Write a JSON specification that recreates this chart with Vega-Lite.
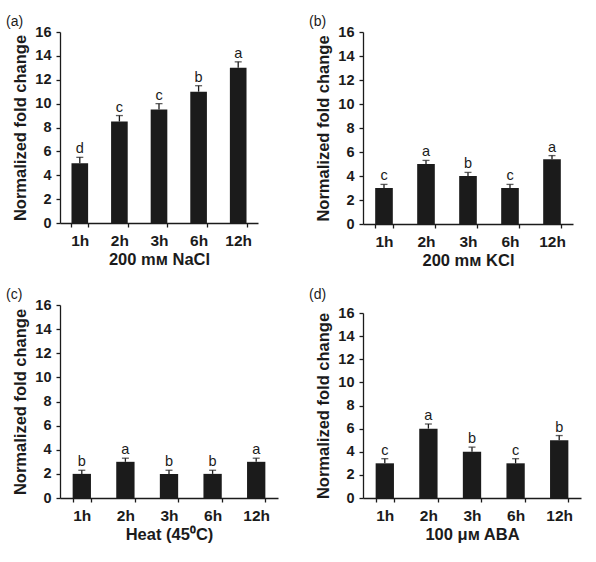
{
  "$schema": "https://vega.github.io/schema/vega-lite/v6.json",
  "background": "white",
  "padding": {"left": 6, "top": 15, "right": 5, "bottom": 5},
  "datasets": {
    "bars": [
      {"panel": "a", "time": "1h", "value": 5, "hi": 5.5, "letter": "d"},
      {"panel": "a", "time": "2h", "value": 8.5, "hi": 9, "letter": "c"},
      {"panel": "a", "time": "3h", "value": 9.5, "hi": 10, "letter": "c"},
      {"panel": "a", "time": "6h", "value": 11, "hi": 11.5, "letter": "b"},
      {"panel": "a", "time": "12h", "value": 13, "hi": 13.5, "letter": "a"},
      {"panel": "b", "time": "1h", "value": 3, "hi": 3.3, "letter": "c"},
      {"panel": "b", "time": "2h", "value": 5, "hi": 5.3, "letter": "a"},
      {"panel": "b", "time": "3h", "value": 4, "hi": 4.3, "letter": "b"},
      {"panel": "b", "time": "6h", "value": 3, "hi": 3.3, "letter": "c"},
      {"panel": "b", "time": "12h", "value": 5.4, "hi": 5.7, "letter": "a"},
      {"panel": "c", "time": "1h", "value": 2, "hi": 2.3, "letter": "b"},
      {"panel": "c", "time": "2h", "value": 3, "hi": 3.3, "letter": "a"},
      {"panel": "c", "time": "3h", "value": 2, "hi": 2.3, "letter": "b"},
      {"panel": "c", "time": "6h", "value": 2, "hi": 2.3, "letter": "b"},
      {"panel": "c", "time": "12h", "value": 3, "hi": 3.3, "letter": "a"},
      {"panel": "d", "time": "1h", "value": 3, "hi": 3.4, "letter": "c"},
      {"panel": "d", "time": "2h", "value": 6, "hi": 6.4, "letter": "a"},
      {"panel": "d", "time": "3h", "value": 4, "hi": 4.4, "letter": "b"},
      {"panel": "d", "time": "6h", "value": 3, "hi": 3.4, "letter": "c"},
      {"panel": "d", "time": "12h", "value": 5, "hi": 5.4, "letter": "b"}
    ]
  },
  "columns": 2,
  "spacing": {"row": 19, "column": 31},
  "concat": [
    {
      "width": 198, "height": 191,
      "title": {"text": "(a)", "offset": -5},
      "data": {"name": "bars"},
      "transform": [{"filter": "datum.panel === 'a'"}],
      "encoding": {
        "x": {"field": "time", "type": "nominal", "sort": ["1h", "2h", "3h", "6h", "12h"], "scale": {"paddingInner": 0.58, "paddingOuter": 0.29}, "axis": {"title": "200 mᴍ NaCl"}},
        "y": {"field": "value", "type": "quantitative", "scale": {"domain": [0, 16]}, "axis": {"values": [0, 2, 4, 6, 8, 10, 12, 14, 16], "title": "Normalized fold change"}}
      },
      "layer": [
        {"mark": {"type": "bar", "color": "#1b1b1b"}},
        {"mark": {"type": "rule", "color": "#1b1b1b", "strokeWidth": 1.3}, "encoding": {"y2": {"field": "hi"}}},
        {"mark": {"type": "tick", "color": "#1b1b1b", "size": 7, "thickness": 1.3}, "encoding": {"y": {"field": "hi", "type": "quantitative"}}},
        {"mark": {"type": "text", "baseline": "alphabetic", "dy": -4, "fontSize": 14.5, "font": "Liberation Sans", "color": "#1b1b1b"}, "encoding": {"y": {"field": "hi", "type": "quantitative"}, "text": {"field": "letter"}}}
      ]
    },
    {
      "width": 210, "height": 192,
      "title": {"text": "(b)", "offset": -5},
      "data": {"name": "bars"},
      "transform": [{"filter": "datum.panel === 'b'"}],
      "encoding": {
        "x": {"field": "time", "type": "nominal", "sort": ["1h", "2h", "3h", "6h", "12h"], "scale": {"paddingInner": 0.58, "paddingOuter": 0.29}, "axis": {"title": "200 mᴍ KCl"}},
        "y": {"field": "value", "type": "quantitative", "scale": {"domain": [0, 16]}, "axis": {"values": [0, 2, 4, 6, 8, 10, 12, 14, 16], "title": "Normalized fold change"}}
      },
      "layer": [
        {"mark": {"type": "bar", "color": "#1b1b1b"}},
        {"mark": {"type": "rule", "color": "#1b1b1b", "strokeWidth": 1.3}, "encoding": {"y2": {"field": "hi"}}},
        {"mark": {"type": "tick", "color": "#1b1b1b", "size": 7, "thickness": 1.3}, "encoding": {"y": {"field": "hi", "type": "quantitative"}}},
        {"mark": {"type": "text", "baseline": "alphabetic", "dy": -4, "fontSize": 14.5, "font": "Liberation Sans", "color": "#1b1b1b"}, "encoding": {"y": {"field": "hi", "type": "quantitative"}, "text": {"field": "letter"}}}
      ]
    },
    {
      "width": 218, "height": 193,
      "title": {"text": "(c)", "offset": -5},
      "data": {"name": "bars"},
      "transform": [{"filter": "datum.panel === 'c'"}],
      "encoding": {
        "x": {"field": "time", "type": "nominal", "sort": ["1h", "2h", "3h", "6h", "12h"], "scale": {"paddingInner": 0.58, "paddingOuter": 0.29}, "axis": {"title": "Heat (45⁰C)"}},
        "y": {"field": "value", "type": "quantitative", "scale": {"domain": [0, 16]}, "axis": {"values": [0, 2, 4, 6, 8, 10, 12, 14, 16], "title": "Normalized fold change"}}
      },
      "layer": [
        {"mark": {"type": "bar", "color": "#1b1b1b"}},
        {"mark": {"type": "rule", "color": "#1b1b1b", "strokeWidth": 1.3}, "encoding": {"y2": {"field": "hi"}}},
        {"mark": {"type": "tick", "color": "#1b1b1b", "size": 7, "thickness": 1.3}, "encoding": {"y": {"field": "hi", "type": "quantitative"}}},
        {"mark": {"type": "text", "baseline": "alphabetic", "dy": -4, "fontSize": 14.5, "font": "Liberation Sans", "color": "#1b1b1b"}, "encoding": {"y": {"field": "hi", "type": "quantitative"}, "text": {"field": "letter"}}}
      ]
    },
    {
      "width": 218, "height": 193,
      "title": {"text": "(d)", "offset": 3},
      "data": {"name": "bars"},
      "transform": [{"filter": "datum.panel === 'd'"}],
      "encoding": {
        "x": {"field": "time", "type": "nominal", "sort": ["1h", "2h", "3h", "6h", "12h"], "scale": {"paddingInner": 0.58, "paddingOuter": 0.29}, "axis": {"title": "100 μᴍ ABA"}},
        "y": {"field": "value", "type": "quantitative", "scale": {"domain": [0, 16], "range": [193, 8]}, "axis": {"values": [0, 2, 4, 6, 8, 10, 12, 14, 16], "title": "Normalized fold change"}}
      },
      "layer": [
        {"mark": {"type": "bar", "color": "#1b1b1b"}},
        {"mark": {"type": "rule", "color": "#1b1b1b", "strokeWidth": 1.3}, "encoding": {"y2": {"field": "hi"}}},
        {"mark": {"type": "tick", "color": "#1b1b1b", "size": 7, "thickness": 1.3}, "encoding": {"y": {"field": "hi", "type": "quantitative"}}},
        {"mark": {"type": "text", "baseline": "alphabetic", "dy": -4, "fontSize": 14.5, "font": "Liberation Sans", "color": "#1b1b1b"}, "encoding": {"y": {"field": "hi", "type": "quantitative"}, "text": {"field": "letter"}}}
      ]
    }
  ],
  "config": {
    "font": "Liberation Sans",
    "view": {"stroke": null},
    "axis": {
      "grid": false,
      "domainColor": "#1b1b1b",
      "domainWidth": 1.3,
      "tickColor": "#1b1b1b",
      "tickWidth": 1.3,
      "tickSize": 4,
      "labelFont": "Liberation Sans",
      "labelFontWeight": "bold",
      "labelColor": "#1b1b1b",
      "titleFont": "Liberation Sans",
      "titleFontSize": 16.5,
      "titleFontWeight": "bold",
      "titleColor": "#1b1b1b"
    },
    "axisX": {"labelAngle": 0, "tickBand": "extent", "labelPadding": 6, "titlePadding": 3, "labelFontSize": 15.5},
    "axisY": {"labelPadding": 5, "titlePadding": 6, "labelFontSize": 14.5},
    "title": {"anchor": "start", "frame": "group", "dx": -54, "fontSize": 14, "fontWeight": "normal", "font": "Liberation Sans", "color": "#1b1b1b"}
  }
}
